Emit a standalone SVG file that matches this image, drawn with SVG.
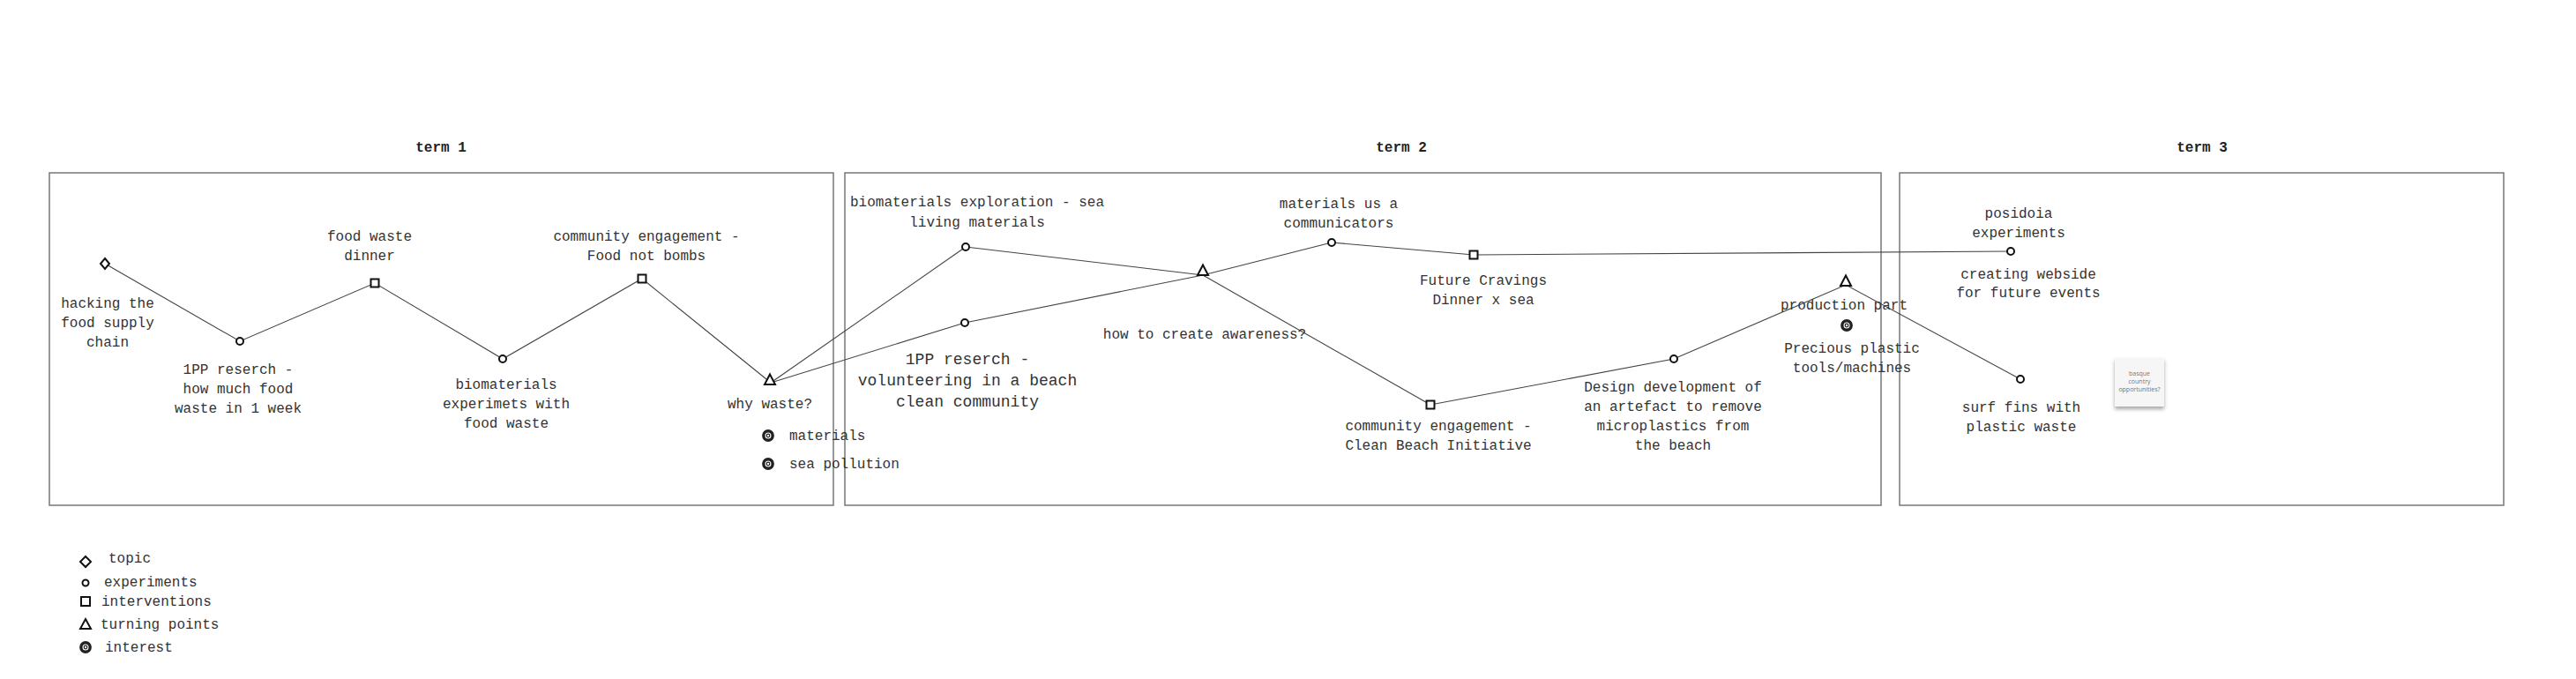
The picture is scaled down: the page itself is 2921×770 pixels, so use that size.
<svg xmlns="http://www.w3.org/2000/svg" width="2921" height="770" viewBox="0 0 2921 770">
<defs>
<style>
.t{font-family:"Liberation Mono","DejaVu Sans Mono",monospace;font-size:16px;fill:#333;text-anchor:middle}
.s{text-anchor:start}
.big{font-size:18px}
.term{font-family:"Liberation Mono","DejaVu Sans Mono",monospace;font-size:16px;font-weight:bold;fill:#222;text-anchor:middle}
.box{fill:none;stroke:#777;stroke-width:1.5}
.ln{stroke:#444;stroke-width:1.1;fill:none}
.m{fill:#fff;stroke:#111;stroke-width:2}
.note{font-family:"Open Sans","Liberation Sans",sans-serif;font-size:7px;fill:#777;text-anchor:middle}
</style>
<g id="dia"><path d="M0,-6 L5,0 L0,6 L-5,0 Z" class="m"/></g>
<g id="cir"><circle r="4" class="m"/></g>
<g id="sq"><rect x="-4.5" y="-4.5" width="9" height="9" class="m"/></g>
<g id="tri"><path d="M0,-6.5 L6,5 L-6,5 Z" class="m"/></g>
<g id="int"><circle r="5.2" fill="#fff" stroke="#222" stroke-width="3.4"/><circle r="1.8" fill="none" stroke="#222" stroke-width="1.2"/></g>
<filter id="sh" x="-30%" y="-30%" width="160%" height="170%"><feDropShadow dx="0" dy="3" stdDeviation="2" flood-color="#000" flood-opacity="0.35"/></filter>
</defs>
<rect width="2921" height="770" fill="#fff"/>

<g id="terms">
<text class="term" x="500" y="172">term 1</text>
<text class="term" x="1589" y="172">term 2</text>
<text class="term" x="2497" y="172">term 3</text>
<rect class="box" x="56" y="196" width="889" height="377"/>
<rect class="box" x="958" y="196" width="1175" height="377"/>
<rect class="box" x="2154" y="196" width="685" height="377"/>
</g>

<g id="connectors">
<polyline class="ln" points="119,299 272,387 425,321 570,407 728,316 874,434"/>
<line class="ln" x1="874" y1="434" x2="1095" y2="280"/>
<line class="ln" x1="874" y1="434" x2="1094" y2="366"/>
<line class="ln" x1="1095" y1="280" x2="1364" y2="312"/>
<line class="ln" x1="1094" y1="366" x2="1364" y2="312"/>
<line class="ln" x1="1364" y1="312" x2="1510" y2="275"/>
<line class="ln" x1="1364" y1="312" x2="1622" y2="459"/>
<line class="ln" x1="1510" y1="275" x2="1671" y2="289"/>
<line class="ln" x1="1671" y1="289" x2="2280" y2="285"/>
<polyline class="ln" points="1622,459 1898,407 2093,323 2291,430"/>
</g>

<g id="n-hacking"><use href="#dia" x="119" y="299"/><text class="t" x="122" y="349">hacking the</text><text class="t" x="122" y="371">food supply</text><text class="t" x="122" y="393">chain</text></g>
<g id="n-1pp-week"><use href="#cir" x="272" y="387"/><text class="t" x="270" y="424">1PP reserch -</text><text class="t" x="270" y="446">how much food</text><text class="t" x="270" y="468">waste in 1 week</text></g>
<g id="n-dinner"><use href="#sq" x="425" y="321"/><text class="t" x="419" y="273">food waste</text><text class="t" x="419" y="295">dinner</text></g>
<g id="n-biomat"><use href="#cir" x="570" y="407"/><text class="t" x="574" y="441">biomaterials</text><text class="t" x="574" y="463">experimets with</text><text class="t" x="574" y="485">food waste</text></g>
<g id="n-fnb"><use href="#sq" x="728" y="316"/><text class="t" x="733" y="273">community engagement -</text><text class="t" x="733" y="295">Food not bombs</text></g>
<g id="n-why"><use href="#tri" x="873" y="431"/><text class="t" x="873" y="463">why waste?</text>
<use href="#int" x="871" y="494"/><text class="t s" x="895" y="499">materials</text>
<use href="#int" x="871" y="526"/><text class="t s" x="895" y="531">sea pollution</text></g>

<g id="n-bioexp"><use href="#cir" x="1095" y="280"/><text class="t" x="1108" y="234">biomaterials exploration - sea</text><text class="t" x="1108" y="257">living materials</text></g>
<g id="n-volunteer"><use href="#cir" x="1094" y="366"/><text class="t big" x="1097" y="413">1PP reserch -</text><text class="t big" x="1097" y="437">volunteering in a beach</text><text class="t big" x="1097" y="461">clean community</text></g>
<g id="n-awareness"><use href="#tri" x="1364" y="307"/><text class="t" x="1366" y="384">how to create awareness?</text></g>
<g id="n-communicators"><use href="#cir" x="1510" y="275"/><text class="t" x="1518" y="236">materials us a</text><text class="t" x="1518" y="258">communicators</text></g>
<g id="n-cravings"><use href="#sq" x="1671" y="289"/><text class="t" x="1682" y="323">Future Cravings</text><text class="t" x="1682" y="345">Dinner x sea</text></g>
<g id="n-cleanbeach"><use href="#sq" x="1622" y="459"/><text class="t" x="1631" y="488">community engagement -</text><text class="t" x="1631" y="510">Clean Beach Initiative</text></g>
<g id="n-design"><use href="#cir" x="1898" y="407"/><text class="t" x="1897" y="444">Design development of</text><text class="t" x="1897" y="466">an artefact to remove</text><text class="t" x="1897" y="488">microplastics from</text><text class="t" x="1897" y="510">the beach</text></g>
<g id="n-production"><use href="#tri" x="2093" y="319"/><text class="t" x="2091" y="351">production part</text>
<use href="#int" x="2094" y="369"/><text class="t" x="2100" y="400">Precious plastic</text><text class="t" x="2100" y="422">tools/machines</text></g>

<g id="n-posidoia"><use href="#cir" x="2280" y="285"/><text class="t" x="2289" y="247">posidoia</text><text class="t" x="2289" y="269">experiments</text><text class="t" x="2300" y="316">creating webside</text><text class="t" x="2300" y="337">for future events</text></g>
<g id="n-surf"><use href="#cir" x="2291" y="430"/><text class="t" x="2292" y="467">surf fins with</text><text class="t" x="2292" y="489">plastic waste</text></g>
<g id="n-note"><rect x="2398" y="406" width="56" height="55" fill="#f6f6f6" filter="url(#sh)"/><text class="note" x="2426" y="426">basque</text><text class="note" x="2426" y="435">country</text><text class="note" x="2426" y="444">opportunities?</text></g>

<g id="legend">
<path d="M97,631 L103,637 L97,643 L91,637 Z" class="m"/><text class="t s" x="123" y="638">topic</text>
<circle cx="97" cy="661" r="3.5" class="m"/><text class="t s" x="118" y="665">experiments</text>
<rect x="92" y="677" width="10" height="10" class="m"/><text class="t s" x="115" y="687">interventions</text>
<path d="M97,702 L103,713 L91,713 Z" class="m"/><text class="t s" x="114" y="713">turning points</text>
<circle cx="97" cy="734" r="5.2" fill="#fff" stroke="#222" stroke-width="3.4"/><circle cx="97" cy="734" r="1.8" fill="none" stroke="#222" stroke-width="1.2"/><text class="t s" x="119" y="739">interest</text>
</g>
</svg>
